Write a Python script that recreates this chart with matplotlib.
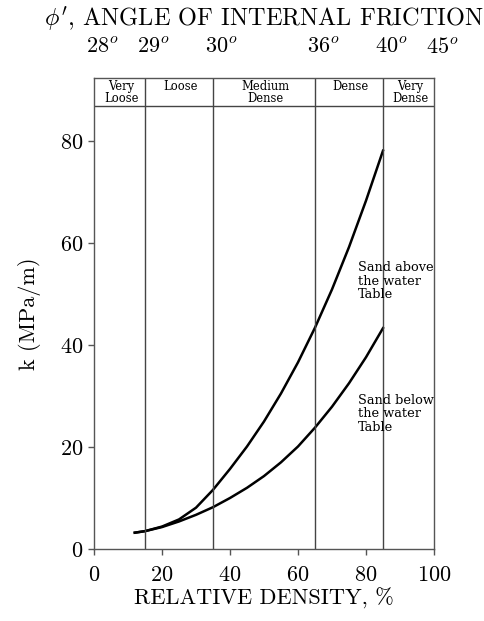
import matplotlib
matplotlib.use("Agg")
import matplotlib.pyplot as plt
import numpy as np

plt.rcParams['font.family'] = ['cmr10', 'DejaVu Serif']
plt.rcParams['mathtext.fontset'] = 'cm'
plt.rcParams['axes.formatter.use_mathtext'] = True

# Data
density_above = [12, 15, 20, 25, 30, 35, 40, 45, 50, 55, 60, 65, 70, 75, 80, 85]
k_above = [3.2, 3.5, 4.4, 5.8, 8.1, 11.6, 15.7, 20.1, 25.0, 30.5, 36.6, 43.4, 50.9, 59.2, 68.3, 78.1]
density_below = [12, 15, 20, 25, 30, 35, 40, 45, 50, 55, 60, 65, 70, 75, 80, 85]
k_below = [3.2, 3.5, 4.3, 5.4, 6.7, 8.2, 10.0, 12.0, 14.3, 17.0, 20.1, 23.8, 27.9, 32.5, 37.6, 43.3]
boundaries = [15, 35, 65, 85]
categories = ["Very\nLoose", "Loose", "Medium\nDense", "Dense", "Very\nDense"]
category_edges = [0, 15, 35, 65, 85, 100]
angle_labels = ["28", "29", "30", "36", "40", "45"]
angle_positions = [0, 15, 35, 65, 85, 100]

fig = plt.figure(figsize=(4.85, 6.21), dpi=100)
ax = fig.add_axes([94/485, 1-549/621, (434-94)/485, (549-78)/621])
ax.set_xlim(0, 100)
ax.set_ylim(0, 92.35)

frame_color = '#555555'
for s in ax.spines.values():
    s.set_color(frame_color)
    s.set_linewidth(1.0)

ax.plot(density_above, k_above, color='black', lw=1.8, solid_joinstyle='round')
ax.plot(density_below, k_below, color='black', lw=1.8, solid_joinstyle='round')

for b in boundaries:
    ax.axvline(b, color='#444444', lw=1.0)
ax.axhline(86.9, color='#444444', lw=1.0)

small_font = ['DejaVu Serif']
for i, cat in enumerate(categories):
    xc = (category_edges[i] + category_edges[i+1]) / 2 + 0.5
    ax.text(xc, 91.9, cat, ha='center', va='top', fontsize=8.3,
            linespacing=0.85, family=small_font)

for lab, pos in zip(angle_labels, angle_positions):
    ax.text(pos + 2.5, 96.5, r"$%s^{o}$" % lab, ha='center', va='bottom', fontsize=16)

fig.text(0.545, 0.97, r"$\phi'$, ANGLE OF INTERNAL FRICTION", ha='center', va='center', fontsize=17.5)

ax.text(77.6, 56.4, "Sand above\nthe water\nTable", ha='left', va='top', fontsize=9.3,
        linespacing=1.05, family=small_font)
ax.text(77.6, 30.4, "Sand below\nthe water\nTable", ha='left', va='top', fontsize=9.3,
        linespacing=1.05, family=small_font)

ax.set_xticks([0, 20, 40, 60, 80, 100])
ax.set_yticks([0, 20, 40, 60, 80])
ax.tick_params(axis='both', direction='out', length=4, width=1, color=frame_color, labelsize=16)
ax.tick_params(axis='x', pad=8)
ax.set_xlabel("RELATIVE DENSITY, %", fontsize=16, labelpad=2)
ax.set_ylabel("k (MPa/m)", fontsize=16, labelpad=14)

fig.savefig("out.png", dpi=100)
